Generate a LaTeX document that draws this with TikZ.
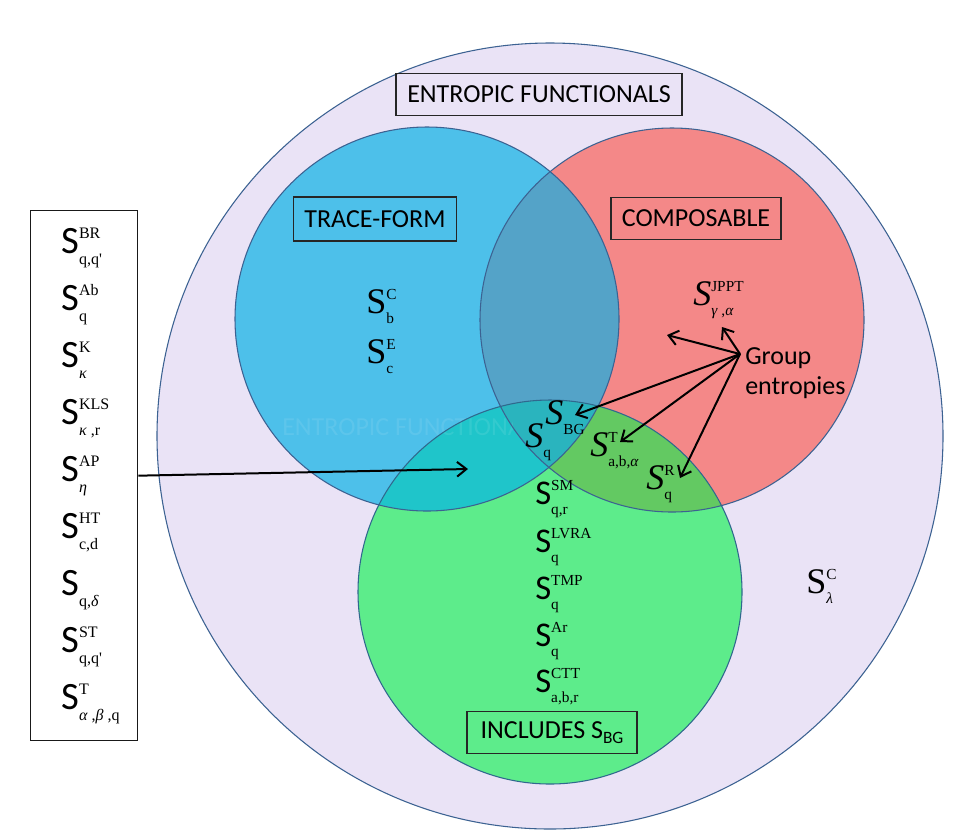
\documentclass[tikz,border=0pt]{standalone}
\usepackage{fontspec}
\setmainfont{Carlito}
\newfontfamily\serifft{Liberation Serif}
\usetikzlibrary{arrows.meta}
\definecolor{lav}{HTML}{EAE3F6}
\definecolor{cblue}{HTML}{4DC0EA}
\definecolor{cred}{HTML}{F48888}
\definecolor{cgreen}{HTML}{5DEC8B}
\definecolor{cbr}{HTML}{54A3C8}
\definecolor{cbg}{HTML}{1FC5CA}
\definecolor{crg}{HTML}{63C962}
\definecolor{cbrg}{HTML}{2AB4BE}
\definecolor{edge}{HTML}{3C6292}
\newcommand\ssb[2]{\begingroup\serifft\fontsize{12}{13}\selectfont\rlap{\raisebox{11pt}{#1}}\raisebox{-8.5pt}{#2}\endgroup}
\newcommand\ssbs[2]{\begingroup\serifft\fontsize{11.5}{13}\selectfont\rlap{\raisebox{10.5pt}{#1}}\raisebox{-8pt}{#2}\endgroup}
\newcommand\Ssans{{\fontsize{29}{30}\selectfont S}}
\newcommand\Sgr{{\fontsize{26}{28}\selectfont S}}
\newcommand\Sit{{\serifft\itshape\fontsize{27}{28}\selectfont S}}
\newcommand\Sro{{\serifft\fontsize{27}{28}\selectfont S}}
\tikzset{
  lab/.style={anchor=base west, inner sep=0pt},
  boxlab/.style={draw=black!85, line width=0.9pt, inner sep=0pt, font=\fontsize{19.5}{22}\selectfont},
  circedge/.style={draw=edge, line width=0.8pt},
  arr/.style={line width=1.5pt, -{Straight Barb[length=7pt,width=11pt]}},
}
\begin{document}
\begin{tikzpicture}[x=0.75pt,y=-0.75pt]
\fill[white] (0,0) rectangle (980,833);
\coordinate (co) at (550,436);
\coordinate (cb) at (427,319);
\coordinate (cr) at (672,320);
\coordinate (cg) at (550,592);
% outer
\fill[lav] (co) circle[radius=294.75pt];
\draw[circedge] (co) circle[radius=294.75pt];
% base fills
\fill[cred] (cr) circle[radius=144pt];
\fill[cblue] (cb) circle[radius=144pt];
\fill[cgreen] (cg) circle[radius=144pt];
\begin{scope}\clip (cb) circle[radius=144pt]; \fill[cbr] (cr) circle[radius=144pt];\end{scope}
\begin{scope}\clip (cb) circle[radius=144pt]; \fill[cbg] (cg) circle[radius=144pt];\end{scope}
\begin{scope}\clip (cr) circle[radius=144pt]; \fill[crg] (cg) circle[radius=144pt];\end{scope}
\begin{scope}\clip (cb) circle[radius=144pt]; \clip (cr) circle[radius=144pt]; \fill[cbrg] (cg) circle[radius=144pt];\end{scope}
% ghost text
\begin{scope}
\clip (270,400) rectangle (512,450);
\node[inner sep=0pt, anchor=base, text=white, text opacity=0.09, font=\fontsize{19.5}{22}\selectfont] (ghost) at (414,435) {ENTROPIC FUNCTIONALS};
\end{scope}
% outlines
\draw[circedge] (cb) circle[radius=144pt];
\draw[circedge] (cr) circle[radius=144pt];
\draw[circedge, draw=edge!80!teal] (cg) circle[radius=144pt];
% boxes
\node[boxlab, minimum width=214.5pt, minimum height=32pt] (ef) at (539,94.5) {ENTROPIC FUNCTIONALS};
\node[boxlab, minimum width=122pt, minimum height=33pt] (tf) at (375,219) {TRACE-FORM};
\node[boxlab, minimum width=127.5pt, minimum height=32pt] (cp) at (696,218.5) {COMPOSABLE};
\node[boxlab, minimum width=127.5pt, minimum height=31pt] (inc) at (552,732.5) {INCLUDES S\raisebox{-3.5pt}{\fontsize{13}{13}\selectfont BG}};
% left box
\node[draw=black!90, line width=1pt, minimum width=80.25pt, minimum height=397.5pt, inner sep=0pt, anchor=north west] (lbox) at (30,210) {};
\node[lab] (l1) at (61,253) {\Ssans\ssb{BR}{q,q'}};
\node[lab] (l2) at (61,310) {\Ssans\ssb{Ab}{q}};
\node[lab] (l3) at (61,367) {\Ssans\ssb{K}{\textit{κ}}};
\node[lab] (l4) at (61,424) {\Ssans\ssb{KLS}{\textit{κ} ,r}};
\node[lab] (l5) at (61,481) {\Ssans\ssb{AP}{\textit{η}}};
\node[lab] (l6) at (61,538) {\Ssans\ssb{HT}{c,d}};
\node[lab] (l7) at (61,595) {\Ssans\ssb{}{q,\textit{δ}}};
\node[lab] (l8) at (61,652) {\Ssans\ssb{ST}{q,q'}};
\node[lab] (l9) at (61,709) {\Ssans\ssb{T}{\textit{α} ,\textit{β} ,q}};
% trace-form labels
\node[lab] (sc) at (366,313) {\Sro\ssbs{C}{b}};
\node[lab] (se) at (366,363) {\Sro\ssbs{E}{c}};
% center labels
\node[lab] (sbg) at (545,424) {\Sit\ssbs{}{BG}};
\node[lab] (sq) at (525,447) {\Sit\ssbs{}{q}};
\node[lab] (st) at (590,456) {\Sit\ssbs{T}{a,b,\textit{α}}};
\node[lab] (sr) at (646,489) {\Sit\ssbs{R}{q}};
\node[lab] (sj) at (693,305) {\Sit\ssbs{JPPT}{\textit{γ} ,\textit{α}}};
\node[lab] (sl) at (806,593) {\Sro\ssbs{C}{\textit{λ}}};
% green list
\node[lab] (g1) at (535,504) {\Sgr\ssbs{SM}{q,r}};
\node[lab] (g2) at (535,552) {\Sgr\ssbs{LVRA}{q}};
\node[lab] (g3) at (535,599) {\Sgr\ssbs{TMP}{q}};
\node[lab] (g4) at (535,646) {\Sgr\ssbs{Ar}{q}};
\node[lab] (g5) at (535,692) {\Sgr\ssbs{CTT}{a,b,r}};
% group entropies
\node[anchor=north west, align=left, inner sep=0pt, font=\fontsize{19.5}{22.5}\selectfont] (ge) at (745,347) {Group\\entropies};
\coordinate (go) at (740,354);
\coordinate (t1) at (667,335);
\coordinate (t2) at (722,327);
\coordinate (t3) at (575,415);
\coordinate (t4) at (620,442);
\coordinate (t5) at (680,478);
\draw[arr] (go) -- (t1);
\draw[arr] (go) -- (t2);
\draw[arr] (go) -- (t3);
\draw[arr] (go) -- (t4);
\draw[arr] (go) -- (t5);
% left arrow
\coordinate (tl) at (468,469);
\draw[arr] (lbox.east) -- (tl);
\end{tikzpicture}
\end{document}
